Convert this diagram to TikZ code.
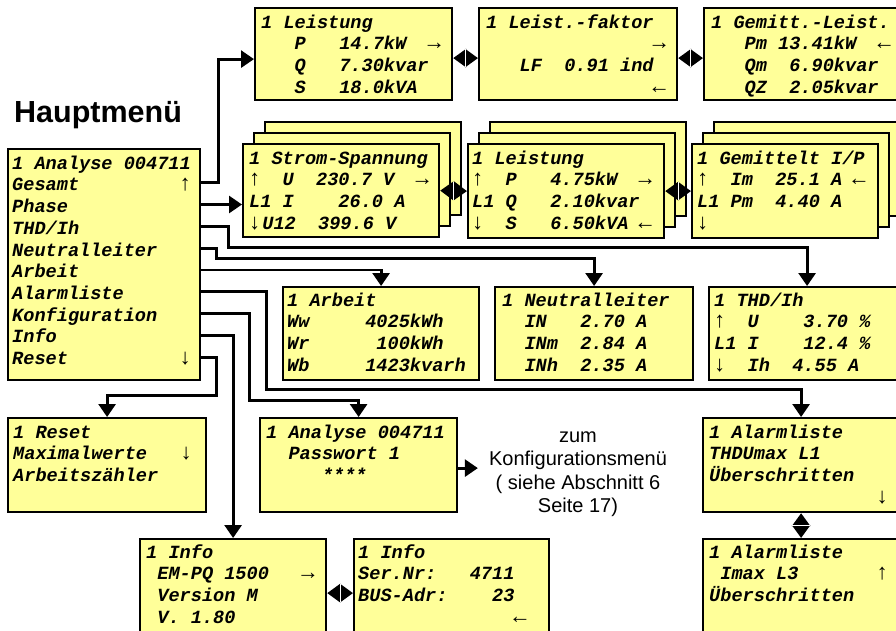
\documentclass[tikz,border=0pt]{standalone}
\usepackage{fontspec}
\usetikzlibrary{arrows.meta,calc}
\newfontfamily\lcdfam{Liberation Mono}
\newfontfamily\sansfam{Liberation Sans}
\newcommand\lcdfont{\lcdfam\bfseries\itshape\fontsize{18.6}{21.7}\selectfont}
\newcommand\arrbox[1]{\makebox[11.16pt]{\lcdfam\mdseries\upshape\fontsize{22}{21.7}\selectfont #1}}
\newcommand\rarr{\arrbox{→}}
\newcommand\larr{\arrbox{←}}
\newcommand\uarr{\arrbox{↑}}
\newcommand\darr{\arrbox{↓}}
\newcommand\ts{\rule{0pt}{16pt}}
\definecolor{lcdyellow}{HTML}{FFFF99}
\begin{document}
\begin{tikzpicture}[x=1pt,y=-1pt,
  box/.style={draw=black, line width=2.2pt, fill=lcdyellow, anchor=north west, inner sep=0pt},
  txt/.style={anchor=north west, inner sep=0pt, align=left, font=\lcdfont},
  conn/.style={line width=2.8pt, -{Triangle[length=13pt,width=17pt]}},
  dbl/.style={line width=2.8pt, {Triangle[length=13pt,width=18pt]}-{Triangle[length=13pt,width=18pt]}},
  gap/.style={draw=white, line width=1.2pt},
  ]
\useasboundingbox (0,0) rectangle (896,630);
\clip (0,0) rectangle (896,630);
\fill[white] (0,0) rectangle (896,630);

% title
\node[anchor=base west, inner sep=0pt, font=\sansfam\bfseries\fontsize{30.5}{36}\selectfont] (title) at (14,122) {Hauptmenü};

% top row
\node[box,minimum width=197pt,minimum height=92pt] (B1) at (254,7) {};
\node[txt] (B1t) at (261,12) {\ts 1~Leistung\\~~~P~~~14.7kW~~\rarr\\~~~Q~~~7.30kvar\\~~~S~~~18.0kVA};
\node[box,minimum width=198pt,minimum height=92pt] (B2) at (478,7) {};
\node[txt] (B2t) at (486,12) {\ts 1~Leist.-faktor\\~~~~~~~~~~~~~~~\rarr\\~~~LF~~0.91~ind\\~~~~~~~~~~~~~~~\larr};
\node[box,minimum width=194pt,minimum height=92pt] (B3) at (703,7) {};
\node[txt] (B3t) at (711,12) {\ts 1~Gemitt.-Leist.\\~~~Pm~13.41kW~~\larr\\~~~Qm~~6.90kvar\\~~~QZ~~2.05kvar};

% main menu
\node[box,minimum width=192pt,minimum height=231pt] (main) at (7,148) {};
\node[txt] (maint) at (12,153) {\ts 1~Analyse~004711\\Gesamt~~~~~~~~~\uarr\\Phase\\THD/Ih\\Neutralleiter\\Arbeit\\Alarmliste\\Konfiguration\\Info\\Reset~~~~~~~~~~\darr};

% stacked middle row
\node[box,minimum width=196pt,minimum height=93pt] (S1c) at (264,121) {};
\node[box,minimum width=196pt,minimum height=93pt] (S1b) at (253,132) {};
\node[box,minimum width=196pt,minimum height=93pt] (S1) at (242,143) {};
\node[txt] (S1t) at (249,148) {\ts 1~Strom-Spannung\\\uarr~~U~~230.7~V~~\rarr\\L1~I~~~~26.0~A\\\darr\hspace{2pt}U12~~399.6~V};

\node[box,minimum width=196pt,minimum height=94pt] (S2c) at (489,121) {};
\node[box,minimum width=196pt,minimum height=94pt] (S2b) at (478,132) {};
\node[box,minimum width=196pt,minimum height=94pt] (S2) at (467,143) {};
\node[txt] (S2t) at (472,148) {\ts 1~Leistung\\\uarr~~P~~~4.75kW~~\rarr\\L1~Q~~~2.10kvar\\\darr~~S~~~6.50kVA~\larr};

\node[box,minimum width=186pt,minimum height=94pt] (S3c) at (713,121) {};
\node[box,minimum width=186pt,minimum height=94pt] (S3b) at (702,132) {};
\node[box,minimum width=186pt,minimum height=94pt] (S3) at (691,143) {};
\node[txt] (S3t) at (697,148) {\ts 1~Gemittelt~I/P\\\uarr~~Im~~25.1~A~\larr\\L1~Pm~~4.40~A\\\darr};

% second row
\node[box,minimum width=196pt,minimum height=93pt] (Arb) at (282,286) {};
\node[txt] (Arbt) at (287,290) {\ts 1~Arbeit\\Ww~~~~~4025kWh\\Wr~~~~~~100kWh\\Wb~~~~~1423kvarh};
\node[box,minimum width=198pt,minimum height=93pt] (Neut) at (494,286) {};
\node[txt] (Neutt) at (502,290) {\ts 1~Neutralleiter\\~~IN~~~2.70~A\\~~INm~~2.84~A\\~~INh~~2.35~A};
\node[box,minimum width=196pt,minimum height=93pt] (THD) at (708,286) {};
\node[txt] (THDt) at (714,290) {\ts 1~THD/Ih\\\uarr~~U~~~~3.70~\%\\L1~I~~~~12.4~\%\\\darr~~Ih~~4.55~A};

% third row
\node[box,minimum width=198pt,minimum height=94pt] (Reset) at (7,417) {};
\node[txt] (Resett) at (13,422) {\ts 1~Reset\\Maximalwerte~~~\darr\\Arbeitszähler};
\node[box,minimum width=197pt,minimum height=94pt] (Ana) at (259,417) {};
\node[txt] (Anat) at (266,422) {\ts 1~Analyse~004711\\~~Passwort~1\\~~~~~****};
\node[box,minimum width=196pt,minimum height=94pt] (Al1) at (702,417) {};
\node[txt] (Al1t) at (709,422) {\ts 1~Alarmliste\\THDUmax~L1\\Überschritten\\~~~~~~~~~~~~~~~\darr};

\node[anchor=north, inner xsep=11pt, inner ysep=0pt, align=center, font=\sansfam\fontsize{20}{23.5}\selectfont] (zum) at (578,426) {\ts zum\\Konfigurationsmenü\\( siehe Abschnitt 6\\Seite 17)};

% bottom row
\node[box,minimum width=186pt,minimum height=94pt] (Info1) at (139,538) {};
\node[txt] (Info1t) at (146,542) {\ts 1~Info\\~EM-PQ~1500~~~\rarr\\~Version~M\\~V.~1.80};
\node[box,minimum width=195pt,minimum height=94pt] (Info2) at (353,538) {};
\node[txt] (Info2t) at (358,542) {\ts 1~Info\\Ser.Nr:~~~4711\\BUS-Adr:~~~~23\\~~~~~~~~~~~~~~\larr};
\node[box,minimum width=196pt,minimum height=94pt] (Al2) at (702,538) {};
\node[txt] (Al2t) at (709,542) {\ts 1~Alarmliste\\~Imax~L3~~~~~~~\uarr\\Überschritten};

% connectors from main menu
\draw[conn] (main.east |- 0,182.7) -- ++(17,0) |- ([yshift=-5pt]B1.west);
\draw[conn] (main.east |- 0,204.5) -- (S1.west |- 0,204.5);
\draw[conn] (main.east |- 0,226.3) -- ++(27,0) -- ++(0,21) -| (THD.north);
\draw[conn] (main.east |- 0,248.1) -- ++(15,0) -- ++(0,10) -| (Neut.north);
\draw[conn] (main.east |- 0,269.9) -| (Arb.north);
\draw[conn] (main.east |- 0,291.7) -- ++(65,0) -- ++(0,98) -| (Al1.north);
\draw[conn] (main.east |- 0,313.5) -- ++(48,0) -- ++(0,87) -| (Ana.north);
\draw[conn] (main.east |- 0,335.3) -| (Info1.north);
\draw[conn] (main.east |- 0,357.1) -- ++(15,0) -- ++(0,38) -| (Reset.north);

\coordinate (anaout) at ([yshift=-3pt]Ana.east);
\draw[conn] (anaout) -- (anaout -| zum.west);

% double arrows
\draw[dbl] ([yshift=-4pt]B1.east) -- ([yshift=-4pt]B2.west);
\draw[gap] ($([yshift=-4pt]B1.east)!0.5!([yshift=-4pt]B2.west)$) +(0,-9) -- +(0,9);
\draw[dbl] ([yshift=-4pt]B2.east) -- ([yshift=-4pt]B3.west);
\draw[gap] ($([yshift=-4pt]B2.east)!0.5!([yshift=-4pt]B3.west)$) +(0,-9) -- +(0,9);
\draw[dbl] (S1.east) -- (S2.west);
\draw[gap] ($(S1.east)!0.5!(S2.west)$) +(0,-9) -- +(0,9);
\draw[dbl] (S2.east) -- (S3.west);
\draw[gap] ($(S2.east)!0.5!(S3.west)$) +(0,-9) -- +(0,9);
\draw[dbl] ([yshift=-7pt]Info1.east) -- ([yshift=-7pt]Info2.west);
\draw[gap] ($([yshift=-7pt]Info1.east)!0.5!([yshift=-7pt]Info2.west)$) +(0,-9) -- +(0,9);
\draw[dbl] (Al1.south) -- (Al2.north);
\draw[gap] ($(Al1.south)!0.5!(Al2.north)$) +(-9,0) -- +(9,0);
\end{tikzpicture}
\end{document}
